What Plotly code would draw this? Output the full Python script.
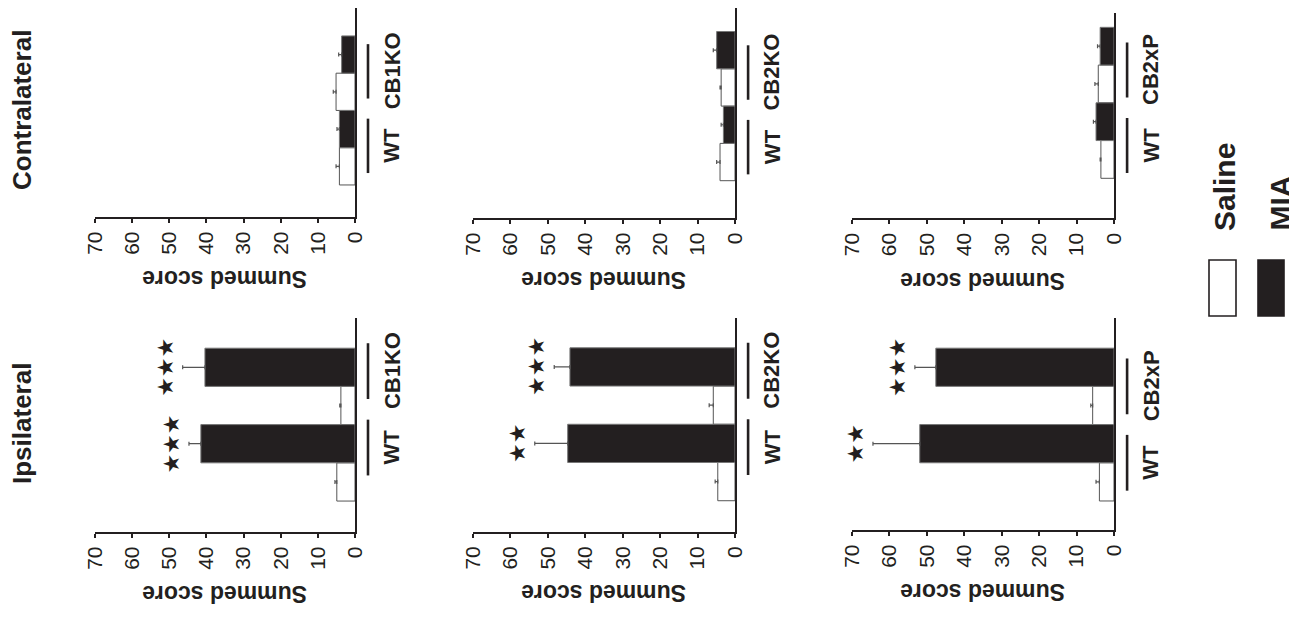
import plotly.graph_objects as go

# ---------------- data ----------------
sides = ["Contralateral", "Ipsilateral"]
genotypes = [["WT", "CB1KO"], ["WT", "CB2KO"], ["WT", "CB2xP"]]
treatments = ["Saline", "MIA"]
score_ticks = [0, 10, 20, 30, 40, 50, 60, 70]

# rows: CB1KO study, CB2KO study, CB2xP study ; within: [WT, mutant]
saline_contra = [[4.2, 5.1], [4.0, 3.7], [3.5, 4.2]]
saline_contra_sem = [[0.9, 0.75], [0.9, 0.3], [0.2, 0.9]]
mia_contra = [[4.2, 3.6], [3.1, 4.9], [4.8, 3.7]]
mia_contra_sem = [[0.65, 0.8], [0.6, 0.9], [0.7, 0.7]]

saline_ipsi = [[4.9, 3.8], [4.6, 5.8], [3.9, 5.7]]
saline_ipsi_sem = [[0.5, 0.3], [0.7, 1.1], [0.9, 0.5]]
mia_ipsi = [[41.5, 40.4], [44.7, 44.1], [51.9, 47.6]]
mia_ipsi_sem = [[3.2, 6.0], [8.8, 4.2], [12.5, 5.6]]

stars_ipsi = [[3, 3], [2, 3], [2, 3]]

# ---------------- layout helpers ----------------
# The page body has an 8px margin, so the figure is drawn 8px in from the
# window's top-left corner; pixel positions below are window pixels.
OFF = 8
FW, FH = 1297 - OFF, 619 - OFF
def px(x):
    return (x - OFF) / FW
def py(y):
    return 1 - (y - OFF) / FH

INK = "#231f20"
FONT = "Liberation Sans, Arial, Helvetica, sans-serif"

panel_x = [(95, 355), (473, 735), (852, 1114)]
panel_y = {0: [(5, 217), (5, 218), (13, 218.3)],
           1: [(318, 532), (318, 531.7), (318, 530)]}
y_ranges = {0: [[-1.36, 4.25], [-1.5, 4.13], [-1.56, 3.88]],
            1: [[-1.31, 4.29], [-1.31, 4.28], [-1.26, 4.29]]}
label_shift = {0: [0.05, -0.1, -0.13], 1: [0.4, 0.4, 0.0]}

data_sets = {
    0: (saline_contra, saline_contra_sem, mia_contra, mia_contra_sem),
    1: (saline_ipsi, saline_ipsi_sem, mia_ipsi, mia_ipsi_sem),
}

fig = go.Figure()
layout = dict(
    width=FW, height=FH,
    margin=dict(l=0, r=0, t=0, b=0, pad=0, autoexpand=False),
    paper_bgcolor="white", plot_bgcolor="white",
    barmode="overlay", showlegend=False,
    font=dict(family=FONT, color=INK),
)
annotations = []
shapes = []

for r in (0, 1):
    s_mean, s_sem, m_mean, m_sem = data_sets[r]
    for c in range(3):
        n = r * 3 + c + 1
        xa = "x" if n == 1 else f"x{n}"
        ya = "y" if n == 1 else f"y{n}"
        xkey = "xaxis" if n == 1 else f"xaxis{n}"
        ykey = "yaxis" if n == 1 else f"yaxis{n}"
        x0, x1 = panel_x[c]
        yt, yb = panel_y[r][c]
        layout[xkey] = dict(
            domain=[max(0, px(x0)), min(1, px(x1))], range=[70, 0], anchor=ya,
            tickvals=score_ticks, ticktext=[str(t) for t in score_ticks],
            tickangle=-90, tickfont=dict(size=21, family=FONT, color=INK),
            showline=True, linewidth=2.2, linecolor=INK,
            ticks="outside", ticklen=4, tickwidth=2, tickcolor=INK,
            showgrid=False, zeroline=False, fixedrange=True, automargin=False,
        )
        layout[ykey] = dict(
            domain=[max(0, py(yb)), min(1, py(yt))], range=y_ranges[r][c], anchor=xa,
            side="right", showline=True, linewidth=2.2, linecolor=INK,
            showticklabels=False, ticks="", showgrid=False, zeroline=False,
            fixedrange=True, automargin=False,
        )
        sal_pos = [2 * i for i in range(2)]
        mia_pos = [2 * i + 1 for i in range(2)]
        fig.add_trace(go.Bar(
            x=s_mean[c], y=sal_pos, orientation="h", width=1,
            name=treatments[0],
            marker=dict(color="white", line=dict(color="#555555", width=1)),
            error_x=dict(type="data", array=s_sem[c], arrayminus=[0, 0],
                         symmetric=False, color="#555555", thickness=1.2, width=2),
            xaxis=xa, yaxis=ya,
        ))
        fig.add_trace(go.Bar(
            x=m_mean[c], y=mia_pos, orientation="h", width=1,
            name=treatments[1],
            marker=dict(color=INK, line=dict(color="#777777", width=1)),
            error_x=dict(type="data", array=m_sem[c], arrayminus=[0, 0],
                         symmetric=False, color="#555555", thickness=1.2, width=2),
            xaxis=xa, yaxis=ya,
        ))
        # group labels and underline bars
        for i, g in enumerate(genotypes[c]):
            gc = 2 * i + 0.5 + label_shift[r][c]
            shapes.append(dict(
                type="line", xref=f"{xa} domain", yref=ya,
                x0=1.05, x1=1.05, y0=gc - 0.73, y1=gc + 0.73,
                line=dict(color=INK, width=2.6),
            ))
            annotations.append(dict(
                xref=f"{xa} domain", yref=ya, x=1, xshift=37, y=gc,
                text=f"<b>{g}</b>", textangle=-90, showarrow=False,
                xanchor="center", yanchor="middle",
                font=dict(size=22, family=FONT, color=INK),
            ))
        # axis title (upside-down in the rotated figure)
        annotations.append(dict(
            xref=f"{xa} domain", yref=f"{ya} domain", x=0.5, y=0, yshift=-62,
            text="<b>Summed score</b>", textangle=180, showarrow=False,
            xanchor="center", yanchor="middle",
            font=dict(size=23, family=FONT, color=INK),
        ))
        # significance stars
        if r == 1:
            for i in range(2):
                annotations.append(dict(
                    xref=xa, yref=ya,
                    x=m_mean[c][i] + m_sem[c][i] + 4.6, y=2 * i + 1,
                    text="★" * stars_ipsi[c][i], textangle=-90, showarrow=False,
                    xanchor="center", yanchor="middle",
                    font=dict(size=22, family="DejaVu Sans", color=INK),
                ))

# side titles
annotations.append(dict(xref="paper", yref="paper", x=px(22), y=py(110),
                        text=f"<b>{sides[0]}</b>", textangle=-90, showarrow=False,
                        xanchor="center", yanchor="middle",
                        font=dict(size=26, family=FONT, color=INK)))
annotations.append(dict(xref="paper", yref="paper", x=px(22), y=py(424),
                        text=f"<b>{sides[1]}</b>", textangle=-90, showarrow=False,
                        xanchor="center", yanchor="middle",
                        font=dict(size=26, family=FONT, color=INK)))

# legend (drawn, rotated like the rest of the figure)
shapes.append(dict(type="rect", xref="paper", yref="paper",
                   x0=px(1209), x1=px(1236), y0=py(316), y1=py(260),
                   fillcolor="white", line=dict(color=INK, width=1.6)))
shapes.append(dict(type="rect", xref="paper", yref="paper",
                   x0=px(1258), x1=px(1284), y0=py(316), y1=py(260),
                   fillcolor=INK, line=dict(color=INK, width=1.6)))
annotations.append(dict(xref="paper", yref="paper", x=px(1224), y=py(233),
                        text=f"<b>{treatments[0]}</b>", textangle=-90, showarrow=False,
                        xanchor="center", yanchor="bottom",
                        font=dict(size=30, family=FONT, color=INK)))
annotations.append(dict(xref="paper", yref="paper", x=px(1280), y=py(233),
                        text=f"<b>{treatments[1]}</b>", textangle=-90, showarrow=False,
                        xanchor="center", yanchor="bottom",
                        font=dict(size=30, family=FONT, color=INK)))

layout["annotations"] = annotations
layout["shapes"] = shapes
fig.update_layout(**layout)
fig.write_html("out.html")
